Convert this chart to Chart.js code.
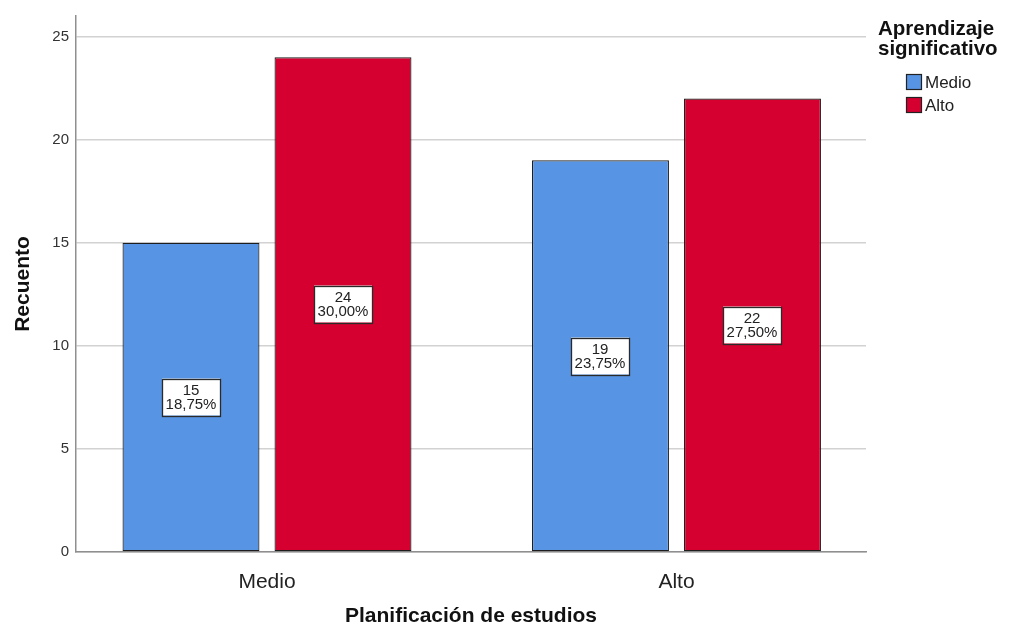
<!DOCTYPE html>
<html>
<head>
<meta charset="utf-8">
<script src="https://cdn.jsdelivr.net/npm/chart.js@4.4.0/dist/chart.umd.min.js"></script>
<style>
  html, body { margin: 0; padding: 0; background: #fff; }
  #wrap { width: 1009px; height: 627px; }
</style>
</head>
<body>
<div id="wrap"><canvas id="chart" width="1009" height="627"></canvas></div>
<script>
// datos
const categorias = ['Medio', 'Alto'];
const serieNombres = ['Medio', 'Alto'];
const serieMedio = [15, 19];
const serieAlto = [24, 22];
const yTicks = [0, 5, 10, 15, 20, 25];
const total = 80;

const colores = ['#5794e3', '#d5002f'];
const fuente = "'Liberation Sans', Arial, sans-serif";

function pct(v) {
    return (v / total * 100).toFixed(2).replace('.', ',') + '%';
}

// cajas con recuento y porcentaje en medio de cada barra
const etiquetasPlugin = {
    id: 'etiquetas',
    afterDatasetsDraw(chart) {
        const ctx = chart.ctx;
        ctx.save();
        ctx.font = '15px ' + fuente;
        ctx.textAlign = 'center';
        ctx.textBaseline = 'middle';
        chart.data.datasets.forEach((ds, di) => {
            const meta = chart.getDatasetMeta(di);
            meta.data.forEach((bar, i) => {
                const v = ds.data[i].y;
                const l1 = String(v);
                const l2 = pct(v);
                const w = Math.ceil(Math.max(ctx.measureText(l1).width, ctx.measureText(l2).width)) + 7;
                const h = 37;
                const cx = Math.round(bar.x);
                const cy = Math.round((bar.y + bar.base) / 2);
                ctx.fillStyle = '#fff';
                ctx.fillRect(cx - w / 2, cy - h / 2, w, h);
                ctx.strokeStyle = '#2a2a2a';
                ctx.lineWidth = 1.3;
                ctx.strokeRect(Math.round(cx - w / 2) + 0.5, Math.round(cy - h / 2) + 0.5, w, h);
                ctx.fillStyle = '#222';
                ctx.fillText(l1, cx, cy - 6);
                ctx.fillText(l2, cx, cy + 8);
            });
        });
        ctx.restore();
    }
};

// leyenda a la derecha, estilo SPSS
const leyendaPlugin = {
    id: 'leyenda',
    afterDraw(chart) {
        const ctx = chart.ctx;
        ctx.save();
        ctx.fillStyle = '#111';
        ctx.textAlign = 'left';
        ctx.textBaseline = 'alphabetic';
        ctx.font = 'bold 20.5px ' + fuente;
        ctx.fillText('Aprendizaje', 878, 35);
        ctx.fillText('significativo', 878, 55);
        ctx.font = '17px ' + fuente;
        chart.data.datasets.forEach((ds, i) => {
            const y = 74 + i * 23;
            ctx.fillStyle = ds.backgroundColor;
            ctx.fillRect(906, y, 15, 15);
            ctx.strokeStyle = '#222';
            ctx.lineWidth = 1.2;
            ctx.strokeRect(906.5, y + 0.5, 15, 15);
            ctx.fillStyle = '#222';
            ctx.fillText(ds.label, 925, y + 14);
        });
        ctx.restore();
    }
};

const datasets = [serieMedio, serieAlto].map((serie, i) => ({
    label: serieNombres[i],
    data: serie.map((v, k) => ({ x: k, y: v })),
    backgroundColor: colores[i],
    borderColor: '#1e1e1e',
    borderWidth: 1.2,
    borderSkipped: false,
    categoryPercentage: 0.7424,
    barPercentage: 0.901
}));

new Chart(document.getElementById('chart'), {
    type: 'bar',
    data: { datasets: datasets },
    plugins: [etiquetasPlugin, leyendaPlugin],
    options: {
        responsive: false,
        animation: false,
        layout: { padding: { left: 0, right: 143, top: 14, bottom: 0 } },
        plugins: { legend: { display: false }, tooltip: { enabled: false } },
        scales: {
            x: {
                type: 'linear',
                offset: false,
                min: -0.4664,
                max: 1.4628,
                afterBuildTicks(scale) {
                    scale.ticks = categorias.map((c, k) => ({ value: k }));
                },
                afterFit(scale) { scale.height = 75; },
                grid: { display: false, offset: false },
                border: { display: true, color: '#8f8f8f', width: 1.5 },
                ticks: {
                    padding: 10,
                    color: '#222',
                    font: { family: fuente, size: 21 },
                    maxRotation: 0,
                    autoSkip: false,
                    callback: (v) => categorias[v] !== undefined ? categorias[v] : ''
                },
                title: {
                    display: true,
                    text: 'Planificación de estudios',
                    color: '#111',
                    font: { family: fuente, size: 21, weight: 'bold' },
                    padding: { top: 0, bottom: -2 }
                }
            },
            y: {
                min: 0,
                max: 26,
                afterBuildTicks(scale) {
                    scale.ticks = yTicks.map(v => ({ value: v }));
                },
                afterFit(scale) { scale.width = 76; },
                grid: { color: '#d2d2d2', lineWidth: 1.5, drawTicks: false },
                border: { display: true, color: '#8f8f8f', width: 1.5 },
                ticks: {
                    padding: 7,
                    color: '#333',
                    font: { family: fuente, size: 15 }
                },
                title: {
                    display: true,
                    text: 'Recuento',
                    color: '#111',
                    font: { family: fuente, size: 21, weight: 'bold' },
                    padding: { top: 11, bottom: 0 }
                }
            }
        }
    }
});
</script>
</body>
</html>
